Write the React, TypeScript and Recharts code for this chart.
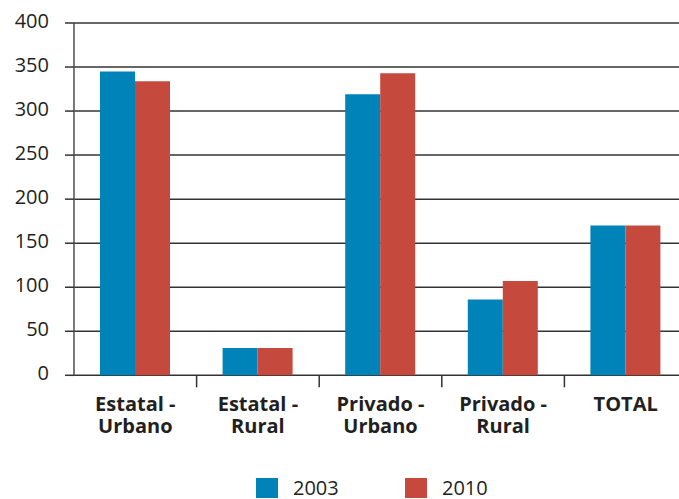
import React from 'react';
import { BarChart, Bar, XAxis, YAxis, CartesianGrid, Legend } from 'recharts';

const categories = ['Estatal - Urbano', 'Estatal - Rural', 'Privado - Urbano', 'Privado - Rural', 'TOTAL'];
const values2003 = [345, 31, 319, 86, 170];
const values2010 = [334, 31, 343, 107, 170];
const yTicks = [0, 50, 100, 150, 200, 250, 300, 350, 400];
const seriesNames = ['2003', '2010'];
const seriesColors = ['#0083b8', '#c6493d'];

const CHART_W = 700;
const CHART_H = 499;
const Y_W = 74;
const MARGIN = { top: 23, right: 13, left: 0, bottom: 0 };
const BAND = (CHART_W - MARGIN.left - MARGIN.right - Y_W) / categories.length;

const FONT = '"Open Sans", sans-serif';
const INK = '#231f20';
const GRID = '#333333';

const data = categories.map((c, i) => ({
  name: c,
  [seriesNames[0]]: values2003[i],
  [seriesNames[1]]: values2010[i],
}));

// rótulo do eixo x em duas linhas, quebra depois do " - "
const CategoryTick = (props: any) => {
  const { x, y, payload, index } = props;
  const label: string = payload.value;
  const lines = label.includes(' - ') ? [label.split(' - ')[0] + ' -', label.split(' - ')[1]] : [label];
  return (
    <g>
      {index > 0 && (
        <line x1={x - BAND / 2} x2={x - BAND / 2} y1={y} y2={y + 12} stroke={GRID} strokeWidth={1.5} />
      )}
      <text x={x} y={y} textAnchor="middle" fontFamily={FONT} fontSize={20} fontWeight={700} fill={INK}>
        {lines.map((l, i) => (
          <tspan key={i} x={x} y={y + 35.5 + i * 22}>
            {l}
          </tspan>
        ))}
      </text>
    </g>
  );
};

const ValueTick = (props: any) => {
  const { x, y, payload } = props;
  return (
    <text x={x} y={y} dy={5} textAnchor="end" fontFamily={FONT} fontSize={20} fill={INK}>
      {payload.value}
    </text>
  );
};

const LegendContent = (props: any) => {
  const { payload = [] } = props;
  return (
    <div style={{ display: 'flex', alignItems: 'flex-end', height: 30, paddingBottom: 1, boxSizing: 'border-box' }}>
      {payload.map((p: any, i: number) => (
        <div key={p.value} style={{ display: 'flex', alignItems: 'center', width: i === 0 ? 149 : 'auto' }}>
          <span style={{ display: 'inline-block', width: 22, height: 20, background: p.color }} />
          <span style={{ marginLeft: 15, fontFamily: FONT, fontSize: 20, lineHeight: '20px', color: INK }}>
            {p.value}
          </span>
        </div>
      ))}
    </div>
  );
};

export default function App() {
  return (
    <div
      style={{
        position: 'fixed',
        left: 0,
        top: 0,
        width: 679,
        height: 499,
        overflow: 'hidden',
        background: '#fff',
      }}
    >
      <BarChart width={CHART_W} height={CHART_H} data={data} margin={MARGIN} barCategoryGap={26} barGap={0}>
        <CartesianGrid vertical={false} stroke={GRID} strokeWidth={1.5} />
        <XAxis
          dataKey="name"
          axisLine={false}
          tickLine={false}
          tickSize={0}
          tickMargin={0}
          height={93.7}
          interval={0}
          tick={<CategoryTick />}
        />
        <YAxis
          width={Y_W}
          domain={[0, 400]}
          ticks={yTicks}
          interval={0}
          tickSize={9}
          tickMargin={16}
          axisLine={{ stroke: '#595959', strokeWidth: 1.6 }}
          tickLine={{ stroke: GRID, strokeWidth: 1.5 }}
          tick={<ValueTick />}
        />
        <Legend
          verticalAlign="bottom"
          content={<LegendContent />}
          wrapperStyle={{ left: 256, width: 320, bottom: 0, height: 30 }}
        />
        {seriesNames.map((s, i) => (
          <Bar key={s} dataKey={s} fill={seriesColors[i]} isAnimationActive={false} />
        ))}
      </BarChart>
    </div>
  );
}
